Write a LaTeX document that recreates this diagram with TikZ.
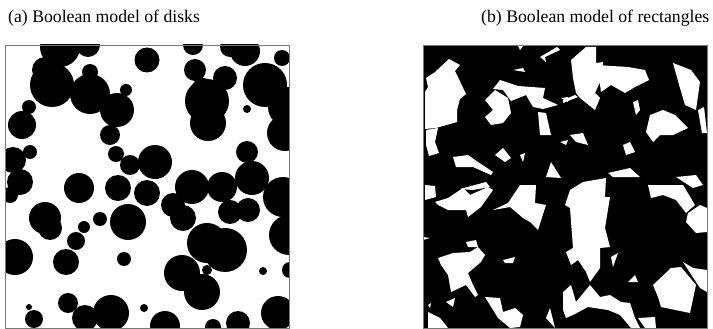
\documentclass[tikz,border=0pt]{standalone}
\usepackage{fontspec}
\setmainfont{Liberation Serif}
\usetikzlibrary{positioning}
\definecolor{framegray}{RGB}{120,120,120}
\tikzset{
  caption/.style={font=\fontsize{17.7}{21}\selectfont, anchor=west, inner sep=0pt},
  grain/.style={fill=black},
  gap/.style={fill=white},
  panelframe/.style={draw=framegray, line width=0.8pt}
}
\begin{document}
\begin{tikzpicture}[x=1pt,y=-1pt]
  \useasboundingbox (0,0) rectangle (713,329);

  \node[caption] (capa) at (8,18) {(a) Boolean model of disks};
  \node[caption] (capb) at (481,18) {(b) Boolean model of rectangles};

  % panel (a): disks
  \begin{scope}[shift={(5,45)}]
    \clip (0,0) rectangle (284,283);
    \foreach \x/\y/\r in {55/2/20, 83/0/12, 40/25/13, 47/40/22, 85/27/8, 85/49/20,
        112/65/17, 121/45/6, 105/90/10, 24/62/7, 17/80/14, 142/15/12.5,
        188/0/10, 190/25/11, 220/33/12, 202/56/22, 203/78/18, 198/45/12,
        242/64/4, 240/6/15, 225/2/10, 277/13/8, 260/40/22, 283/62/20,
        280/88/18, 242/107/11, 247/133/17, 8/115/13, 25/107/7, 15/137/13,
        5/150/8, 111/109/8, 125/120/10, 150/117/17, 74/143/15, 113/143/13,
        142/148/13, 187/142/17, 217/142/15, 168/160/12, 178/173/13,
        225/167/12, 243/165/12, 278/152/20, 284/190/20, 285/225/8,
        40/173/16, 45/183/12, 79/182/6, 95/174/7, 71/196/9, 123/177/18,
        10/212/18, 61/217/13, 119/214/7, 202/198/20, 220/205/22,
        177/228/18, 197/247/18, 202/225/5, 258/226/4, 24/262/3, 29/274/9,
        63/258/10, 80/273/13, 106/268/18, 139/263/4, 160/281/15,
        208/282/8, 233/278/12, 273/268/17}
      \fill[grain] (\x,\y) circle (\r);
  \end{scope}
  \draw[panelframe] (5,45) rectangle (289,328);

  % panel (b): rectangles, gaps left white
  \begin{scope}[shift={(423,45)}]
    \clip (0,0) rectangle (284,283);
    \fill[grain] (0,0) rectangle (284,283);
    \fill[gap] (26,14) -- (37,20) -- (32,26) -- (43,49) -- (37,54) -- (34,65) -- (34,77)
      -- (13,83) -- (2,84) -- (2,47) -- (5,42) -- (3,33) -- (12,27) -- cycle;
    \fill[gap] (3,85) -- (15,83) -- (12,97) -- (16,108) -- (6,111) -- (3,100) -- cycle;
    \fill[gap] (95,1) -- (100,1) -- (97,5) -- cycle;
    \fill[gap] (117,12) -- (134,2) -- (137,5) -- (122,12) -- (123,17) -- cycle;
    \fill[gap] (90,25) -- (100,23) -- (102,27) -- cycle;
    \fill[gap] (77,35) -- (95,41) -- (122,43) -- (120,53) -- (135,60) -- (120,64) -- (110,62)
      -- (103,50) -- (88,56) -- (80,45) -- (70,44) -- cycle;
    \fill[gap] (62,55) -- (72,45) -- (85,53) -- (88,68) -- (80,78) -- (68,80) -- (62,72) -- (70,65) -- cycle;
    \fill[gap] (115,67) -- (123,68) -- (128,90) -- (117,90) -- cycle;
    \fill[gap] (137,97) -- (145,95) -- (143,100) -- cycle;
    \fill[gap] (138,53) -- (145,52) -- (145,57) -- cycle;
    \fill[gap] (30,112) -- (45,110) -- (52,115) -- (70,127) -- (68,130) -- (50,122) -- (33,122) -- cycle;
    \fill[gap] (72,110) -- (80,103) -- (88,113) -- (82,117) -- cycle;
    \fill[gap] (97,110) -- (102,108) -- (100,117) -- cycle;
    \fill[gap] (123,132) -- (128,117) -- (138,133) -- cycle;
    \fill[gap] (37,144) -- (63,137) -- (67,142) -- (50,145) -- cycle;
    \fill[gap] (148,15) -- (163,2) -- (173,2) -- (173,18) -- (180,17) -- (178,35) -- (172,48)
      -- (177,53) -- (172,65) -- (157,53) -- (153,48) -- (150,33) -- cycle;
    \fill[gap] (173,20) -- (205,22) -- (222,25) -- (226,35) -- (212,42) -- (202,48) -- (188,40)
      -- (178,47) -- (176,32) -- cycle;
    \fill[gap] (250,18) -- (268,25) -- (277,37) -- (273,65) -- (262,60) -- (257,43) -- cycle;
    \fill[gap] (275,65) -- (281,62) -- (284,88) -- (279,88) -- cycle;
    \fill[gap] (227,70) -- (240,65) -- (252,70) -- (265,83) -- (250,90) -- (237,90) -- (230,97) -- (223,87) -- cycle;
    \fill[gap] (210,57) -- (215,55) -- (217,65) -- (213,70) -- cycle;
    \fill[gap] (140,55) -- (152,50) -- (155,52) -- (140,58) -- cycle;
    \fill[gap] (147,90) -- (160,88) -- (165,100) -- (153,97) -- cycle;
    \fill[gap] (200,100) -- (207,97) -- (212,107) -- (203,110) -- cycle;
    \fill[gap] (185,128) -- (207,123) -- (217,132) -- (190,132) -- cycle;
    \fill[gap] (253,132) -- (273,130) -- (280,140) -- (270,143) -- cycle;
    \fill[gap] (2,140) -- (12,141) -- (13,152) -- (2,155) -- cycle;
    \fill[gap] (12,157) -- (25,153) -- (40,143) -- (47,150) -- (65,142) -- (70,145) -- (58,162)
      -- (45,172) -- (43,165) -- (25,165) -- (15,160) -- cycle;
    \fill[gap] (70,165) -- (85,158) -- (97,140) -- (113,140) -- (112,158) -- (123,160) -- (115,185)
      -- (107,177) -- (100,173) -- (87,162) -- cycle;
    \fill[gap] (0,192) -- (7,193) -- (0,195) -- cycle;
    \fill[gap] (15,213) -- (30,208) -- (47,207) -- (55,202) -- (62,210) -- (58,217) -- (45,228)
      -- (50,240) -- (55,250) -- (52,252) -- (43,240) -- (28,247) -- (25,230) -- (18,220) -- cycle;
    \fill[gap] (43,197) -- (53,195) -- (55,202) -- (45,202) -- cycle;
    \fill[gap] (80,215) -- (92,212) -- (90,218) -- (82,218) -- cycle;
    \fill[gap] (62,252) -- (77,253) -- (80,267) -- (92,263) -- (100,270) -- (97,282) -- (87,283) -- (75,273) -- cycle;
    \fill[gap] (5,267) -- (17,273) -- (25,283) -- (5,283) -- cycle;
    \fill[gap] (5,260) -- (8,258) -- (7,263) -- cycle;
    \fill[gap] (23,257) -- (32,253) -- (30,262) -- cycle;
    \fill[gap] (123,273) -- (127,263) -- (132,283) -- cycle;
    \fill[gap] (147,145) -- (160,137) -- (183,133) -- (182,152) -- (187,152) -- (182,183) -- (187,202)
      -- (177,203) -- (177,223) -- (167,237) -- (163,227) -- (155,215) -- (148,220) -- (143,207)
      -- (150,203) -- (147,163) -- (142,160) -- cycle;
    \fill[gap] (225,140) -- (260,140) -- (272,160) -- (263,168) -- (253,155) -- (240,150) -- (228,153) -- cycle;
    \fill[gap] (265,168) -- (277,160) -- (284,163) -- (284,187) -- (273,188) -- (263,177) -- cycle;
    \fill[gap] (188,212) -- (195,208) -- (190,222) -- cycle;
    \fill[gap] (260,217) -- (270,223) -- (284,225) -- (284,247) -- (277,243) -- cycle;
    \fill[gap] (230,240) -- (248,223) -- (258,222) -- (273,240) -- (267,268) -- (238,262) -- (235,252) -- cycle;
    \fill[gap] (205,237) -- (212,230) -- (215,237) -- cycle;
    \fill[gap] (140,247) -- (148,240) -- (153,257) -- (167,240) -- (177,252) -- (187,250) -- (198,257)
      -- (207,258) -- (212,273) -- (217,283) -- (208,283) -- (197,270) -- (185,265) -- (165,262)
      -- (150,270) -- (143,273) -- (140,265) -- cycle;
    \fill[gap] (215,273) -- (232,272) -- (233,283) -- (222,283) -- cycle;
  \end{scope}
  \draw[panelframe] (423,45) rectangle (707,328);
\end{tikzpicture}
\end{document}
